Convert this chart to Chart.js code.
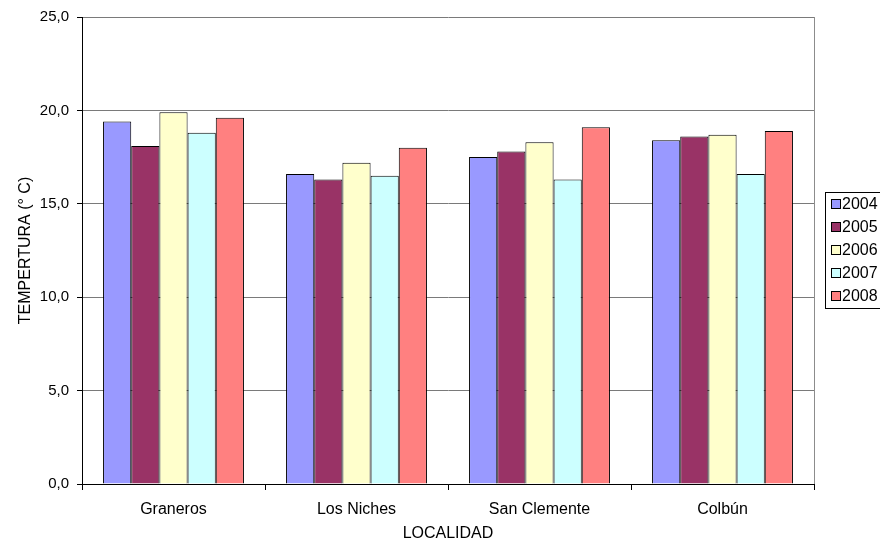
<!DOCTYPE html>
<html>
<head>
<meta charset="utf-8">
<script src="https://cdn.jsdelivr.net/npm/chart.js@4.4.1/dist/chart.umd.min.js"></script>
<style>
  html, body { margin: 0; padding: 0; background: #fff; }
  #wrap { width: 880px; height: 540px; position: relative; }
</style>
</head>
<body>
<div id="wrap"><canvas id="c" width="880" height="540"></canvas></div>
<script>
// Temperatura media por localidad y año
const localidades = ['Graneros', 'Los Niches', 'San Clemente', 'Colbún'];
const years = ['2004', '2005', '2006', '2007', '2008'];
const t2004 = [19.4, 16.6, 17.5, 18.4];
const t2005 = [18.1, 16.3, 17.8, 18.6];
const t2006 = [19.9, 17.2, 18.3, 18.7];
const t2007 = [18.8, 16.5, 16.3, 16.6];
const t2008 = [19.6, 18.0, 19.1, 18.9];
const yTicks = [0, 5, 10, 15, 20, 25];

const seriesValues = [t2004, t2005, t2006, t2007, t2008];
const fills = ['#9999FF', '#993366', '#FFFFCC', '#CCFFFF', '#FF8080'];

const SANS = '"Liberation Sans", Arial, sans-serif';

const fmt = v => Number(v).toFixed(1).replace('.', ',');

// Frame on the right side of the plot plus the boxed legend
const framePlugin = {
  id: 'frame',
  afterDraw(chart) {
    const { ctx, chartArea } = chart;
    ctx.save();
    ctx.strokeStyle = '#8c8c8c';
    ctx.lineWidth = 1;
    ctx.beginPath();
    const rx = Math.round(chartArea.right) + 0.5;
    ctx.moveTo(rx, Math.round(chartArea.top));
    ctx.lineTo(rx, Math.round(chartArea.bottom));
    ctx.stroke();

    // legend
    ctx.strokeStyle = '#000';
    ctx.strokeRect(825.5, 192.5, 80, 116);
    ctx.font = '16px ' + SANS;
    ctx.textBaseline = 'middle';
    ctx.textAlign = 'left';
    chart.data.datasets.forEach((ds, i) => {
      const cy = 204 + i * 23;
      ctx.fillStyle = ds.backgroundColor;
      ctx.fillRect(831, cy - 5, 10, 10);
      ctx.strokeStyle = '#000';
      ctx.strokeRect(831.5, cy - 4.5, 9, 9);
      ctx.fillStyle = '#000';
      ctx.fillText(ds.label, 842, cy + 1);
    });
    ctx.restore();
  }
};

new Chart(document.getElementById('c'), {
  type: 'bar',
  data: {
    labels: localidades,
    datasets: years.map((y, i) => ({
      label: y,
      data: seriesValues[i],
      backgroundColor: fills[i],
      borderColor: '#000',
      borderWidth: 1,
      categoryPercentage: 0.77,
      barPercentage: 1.0
    }))
  },
  options: {
    responsive: false,
    animation: false,
    devicePixelRatio: 1,
    layout: { padding: { top: 16, right: 66, left: 0, bottom: 0 } },
    plugins: {
      legend: { display: false },
      tooltip: { enabled: false }
    },
    scales: {
      x: {
        offset: true,
        afterFit(scale) { scale.height = 56; },
        grid: {
          drawOnChartArea: false,
          drawTicks: true,
          tickLength: 6,
          tickColor: '#000'
        },
        border: { color: '#000', width: 1 },
        ticks: {
          color: '#000',
          padding: 10,
          font: { family: SANS, size: 16 }
        },
        title: {
          display: true,
          text: 'LOCALIDAD',
          color: '#000',
          font: { family: SANS, size: 16 },
          padding: { top: -3, bottom: -3 }
        }
      },
      y: {
        min: 0,
        max: 25,
        afterFit(scale) { scale.width = 82; },
        afterBuildTicks(scale) { scale.ticks = yTicks.map(v => ({ value: v })); },
        grid: {
          color: ctx => (ctx.tick && ctx.tick.value === 0) ? '#000' : '#7a7a7a',
          tickColor: '#000',
          tickLength: 5,
          lineWidth: 1
        },
        border: { color: '#000', width: 1 },
        ticks: {
          color: '#000',
          padding: 8,
          font: { family: SANS, size: 15 },
          callback: v => fmt(v)
        },
        title: {
          display: true,
          text: 'TEMPERTURA (° C)',
          color: '#000',
          font: { family: SANS, size: 16 },
          padding: { top: 16, bottom: 0 }
        }
      }
    }
  },
  plugins: [framePlugin]
});
</script>
</body>
</html>
